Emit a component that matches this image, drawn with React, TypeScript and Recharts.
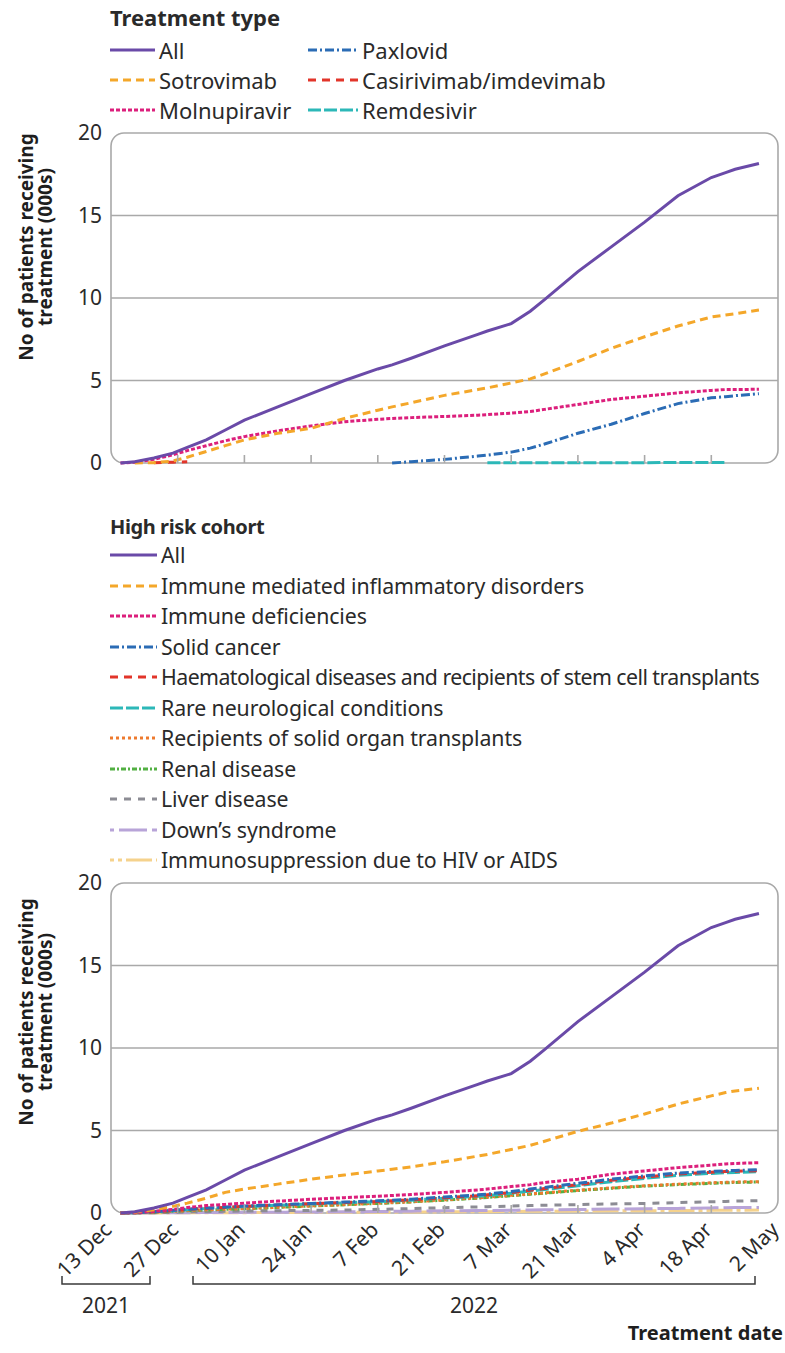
import React from 'react';
import { LineChart, Line, XAxis, YAxis, ReferenceLine, ReferenceArea, Legend } from 'recharts';

const FONT = '"Noto Sans", "Open Sans", sans-serif';

// days since 13 Dec 2021
const days = [2, 5, 9, 13, 16, 20, 24, 28, 35, 42, 49, 56, 59, 63, 70, 77, 79, 84, 88, 91, 98, 105, 112, 119, 126, 129, 131, 136];
const xTicks = [0, 14, 28, 42, 56, 70, 84, 98, 112, 126, 140];
const xTickLabels = ['13 Dec', '27 Dec', '10 Jan', '24 Jan', '7 Feb', '21 Feb', '7 Mar', '21 Mar', '4 Apr', '18 Apr', '2 May'];
const yTicks = [0, 5, 10, 15, 20];

// thousands of patients, cumulative
const allPatients = [0, 0.08, 0.3, 0.6, 0.95, 1.4, 2.0, 2.6, 3.4, 4.2, 5.0, 5.7, 5.95, 6.35, 7.1, 7.8, 8.0, 8.45, 9.2, 9.9, 11.6, 13.1, 14.6, 16.2, 17.3, 17.6, 17.8, 18.15];
const sotrovimab = [null, 0, 0.02, 0.12, 0.35, 0.7, 1.05, 1.4, 1.8, 2.1, 2.7, 3.2, 3.4, 3.65, 4.1, 4.45, 4.55, 4.85, 5.1, 5.4, 6.15, 6.95, 7.65, 8.3, 8.85, 8.97, 9.05, 9.27];
const molnupiravir = [0, 0.05, 0.22, 0.5, 0.75, 1.05, 1.35, 1.6, 1.95, 2.25, 2.5, 2.65, 2.7, 2.75, 2.82, 2.9, 2.93, 3.02, 3.12, 3.25, 3.55, 3.85, 4.05, 4.25, 4.4, 4.45, 4.45, 4.47];
const paxlovid = [null, null, null, null, null, null, null, null, null, null, null, null, 0, 0.08, 0.22, 0.42, 0.48, 0.66, 0.9, 1.15, 1.8, 2.35, 3.0, 3.6, 3.95, 4.02, 4.08, 4.2];
const casirivimab = [null, null, 0.02, 0.05, 0.07, null, null, null, null, null, null, null, null, null, null, null, null, null, null, null, null, null, null, null, null, null, null, null];
const remdesivir = [null, null, null, null, null, null, null, null, null, null, null, null, null, null, null, null, 0.01, 0.01, 0.01, 0.02, 0.02, 0.02, 0.02, 0.03, 0.03, 0.03, null, null];

const imid = [0, 0.05, 0.2, 0.4, 0.6, 0.9, 1.25, 1.45, 1.75, 2.05, 2.3, 2.55, 2.65, 2.8, 3.1, 3.45, 3.55, 3.85, 4.1, 4.35, 4.95, 5.45, 6.0, 6.6, 7.1, 7.3, 7.4, 7.56];
const immuneDef = [0, 0.02, 0.1, 0.22, 0.33, 0.45, 0.52, 0.6, 0.72, 0.83, 0.93, 1.02, 1.06, 1.12, 1.25, 1.4, 1.45, 1.6, 1.72, 1.85, 2.05, 2.35, 2.55, 2.75, 2.9, 2.97, 3.0, 3.05];
const solidCancer = [0, 0.02, 0.08, 0.16, 0.23, 0.3, 0.36, 0.42, 0.5, 0.58, 0.66, 0.74, 0.78, 0.84, 0.97, 1.1, 1.15, 1.3, 1.45, 1.55, 1.8, 2.05, 2.25, 2.42, 2.52, 2.56, 2.58, 2.62];
const haematological = [0, 0.02, 0.07, 0.15, 0.21, 0.28, 0.34, 0.4, 0.48, 0.56, 0.63, 0.7, 0.74, 0.8, 0.92, 1.05, 1.1, 1.24, 1.38, 1.48, 1.72, 1.98, 2.18, 2.36, 2.47, 2.51, 2.53, 2.56];
const rareNeuro = [0, 0.02, 0.07, 0.14, 0.2, 0.27, 0.33, 0.39, 0.47, 0.55, 0.62, 0.69, 0.72, 0.78, 0.9, 1.02, 1.06, 1.2, 1.33, 1.42, 1.65, 1.9, 2.1, 2.28, 2.4, 2.44, 2.46, 2.5];
const solidOrgan = [0, 0.01, 0.05, 0.1, 0.15, 0.19, 0.23, 0.27, 0.35, 0.43, 0.51, 0.59, 0.63, 0.68, 0.8, 0.92, 0.96, 1.07, 1.16, 1.22, 1.38, 1.52, 1.65, 1.75, 1.83, 1.86, 1.88, 1.9];
const renal = [0, 0.01, 0.05, 0.1, 0.14, 0.18, 0.22, 0.26, 0.34, 0.42, 0.5, 0.58, 0.62, 0.67, 0.78, 0.9, 0.94, 1.05, 1.14, 1.2, 1.36, 1.5, 1.63, 1.72, 1.8, 1.83, 1.85, 1.88];
const liver = [0, 0, 0.02, 0.04, 0.06, 0.08, 0.1, 0.12, 0.14, 0.16, 0.18, 0.22, 0.24, 0.27, 0.32, 0.37, 0.38, 0.42, 0.45, 0.47, 0.51, 0.55, 0.58, 0.63, 0.68, 0.7, 0.72, 0.75];
const downs = [0, 0, 0.01, 0.02, 0.02, 0.03, 0.03, 0.04, 0.05, 0.06, 0.07, 0.09, 0.1, 0.11, 0.13, 0.15, 0.15, 0.17, 0.18, 0.19, 0.21, 0.24, 0.26, 0.28, 0.31, 0.32, 0.33, 0.34];
const hiv = [0, 0, 0, 0.01, 0.01, 0.01, 0.02, 0.02, 0.03, 0.03, 0.04, 0.05, 0.05, 0.06, 0.07, 0.08, 0.08, 0.09, 0.1, 0.11, 0.12, 0.13, 0.14, 0.15, 0.16, 0.17, 0.17, 0.18];

const treatmentData = days.map((day, i) => ({
  day,
  all: allPatients[i],
  sotrovimab: sotrovimab[i],
  molnupiravir: molnupiravir[i],
  paxlovid: paxlovid[i],
  casirivimab: casirivimab[i],
  remdesivir: remdesivir[i],
}));

const cohortData = days.map((day, i) => ({
  day,
  all: allPatients[i],
  imid: imid[i],
  immuneDef: immuneDef[i],
  solidCancer: solidCancer[i],
  haematological: haematological[i],
  rareNeuro: rareNeuro[i],
  solidOrgan: solidOrgan[i],
  renal: renal[i],
  liver: liver[i],
  downs: downs[i],
  hiv: hiv[i],
}));

type Series = { key: string; name: string; color: string; dash?: string; width?: number; squeeze?: number };

const treatmentSeries: Series[] = [
  { key: 'all', name: 'All', color: '#6a4aa8', width: 3 },
  { key: 'sotrovimab', name: 'Sotrovimab', color: '#f4a72a', dash: '8 5' },
  { key: 'molnupiravir', name: 'Molnupiravir', color: '#dc1f7c', dash: '4 2' },
  { key: 'paxlovid', name: 'Paxlovid', color: '#2b6cb5', dash: '9 3 2 3' },
  { key: 'casirivimab', name: 'Casirivimab/imdevimab', color: '#e2352a', dash: '8 6' },
  { key: 'remdesivir', name: 'Remdesivir', color: '#2cb8b8', dash: '13 3' },
];

const cohortSeries: Series[] = [
  { key: 'all', name: 'All', color: '#6a4aa8', width: 3 },
  { key: 'imid', name: 'Immune mediated inflammatory disorders', color: '#f4a72a', dash: '8 5' },
  { key: 'immuneDef', name: 'Immune deficiencies', color: '#dc1f7c', dash: '4 2' },
  { key: 'solidCancer', name: 'Solid cancer', color: '#2b6cb5', dash: '9 3 2 3' },
  { key: 'haematological', name: 'Haematological diseases and recipients of stem cell transplants', color: '#e2352a', dash: '8 6', squeeze: -0.55 },
  { key: 'rareNeuro', name: 'Rare neurological conditions', color: '#2cb8b8', dash: '13 3' },
  { key: 'solidOrgan', name: 'Recipients of solid organ transplants', color: '#ee7a2e', dash: '3 3' },
  { key: 'renal', name: 'Renal disease', color: '#52b043', dash: '5 2 2 2' },
  { key: 'liver', name: 'Liver disease', color: '#8c8c94', dash: '7 7' },
  { key: 'downs', name: 'Down\u2019s syndrome', color: '#b8a4d8', dash: '4 5 24 0' },
  { key: 'hiv', name: 'Immunosuppression due to HIV or AIDS', color: '#f5d28c', dash: '4 4 4 4 22 0' },
];

const GRID = '#a9a9a9';
const TEXT = '#2a2a2a';

function Sample({ s, width = 46 }: { s: Series; width?: number }) {
  return (
    <svg width={width} height={10} style={{ display: 'block' }}>
      <line x1={0} y1={5} x2={width} y2={5} stroke={s.color} strokeWidth={3} strokeDasharray={s.dash} />
    </svg>
  );
}

function TreatmentLegend() {
  return (
    <div style={{ position: 'relative', width: 785, height: 125, fontFamily: FONT, color: TEXT }}>
      <div style={{ position: 'absolute', left: 110, top: 3, fontSize: 22, fontWeight: 700, lineHeight: '28px' }}>Treatment type</div>
      {treatmentSeries.map((s, i) => {
        const col = Math.floor(i / 3);
        const row = i % 3;
        const cy = 50 + row * 30;
        const lx = col === 0 ? 110 : 308;
        return (
          <div key={s.key} style={{ position: 'absolute', left: lx, top: cy - 14, height: 28, display: 'flex', alignItems: 'center' }}>
            <Sample s={s} width={col === 0 ? 45 : 50} />
            <span style={{ marginLeft: 4, fontSize: 22, lineHeight: '28px', whiteSpace: 'nowrap' }}>{s.name}</span>
          </div>
        );
      })}
    </div>
  );
}

function CohortLegend() {
  return (
    <div style={{ position: 'relative', width: 785, height: 380, fontFamily: FONT, color: TEXT }}>
      <div style={{ position: 'absolute', left: 110, top: 13, fontSize: 20, fontWeight: 700, lineHeight: '28px', letterSpacing: -0.4 }}>High risk cohort</div>
      {cohortSeries.map((s, i) => {
        const cy = 55 + i * 30.5;
        return (
          <div key={s.key} style={{ position: 'absolute', left: 110, top: cy - 14, height: 28, display: 'flex', alignItems: 'center' }}>
            <Sample s={s} width={47} />
            <span style={{ marginLeft: 4, fontSize: 21.3, lineHeight: '28px', whiteSpace: 'nowrap', letterSpacing: s.squeeze ?? -0.1 }}>{s.name}</span>
          </div>
        );
      })}
    </div>
  );
}

function PlotBox(props: any) {
  const { x, y, width, height } = props;
  return <rect x={x} y={y} width={width} height={height} rx={13} ry={13} fill="none" stroke={GRID} strokeWidth={1.6} />;
}

function DateTick(props: any) {
  const { x, y, payload, showLabel } = props;
  const idx = xTicks.indexOf(payload.value);
  const edge = payload.value === 0 || payload.value === 140;
  const ax = x + 2;
  const ay = y + 18;
  return (
    <g>
      {!edge && <line x1={x} x2={x} y1={y} y2={y - 8} stroke={GRID} strokeWidth={1.6} />}
      {showLabel && (
        <text x={ax} y={ay} transform={`rotate(-45 ${ax} ${ay})`} textAnchor="end" fontSize={21} fill={TEXT} fontFamily={FONT}>
          {xTickLabels[idx]}
        </text>
      )}
    </g>
  );
}

function renderLines(series: Series[]) {
  return [...series].reverse().map((s) => (
    <Line
      key={s.key}
      type="linear"
      dataKey={s.key}
      name={s.name}
      stroke={s.color}
      strokeWidth={s.width ?? 3}
      strokeDasharray={s.dash}
      dot={false}
      activeDot={false}
      connectNulls={false}
      isAnimationActive={false}
    />
  ));
}

function YTitle({ cy }: { cy: number }) {
  return (
    <text transform={`translate(0 ${cy}) rotate(-90)`} textAnchor="middle" fontFamily={FONT} fontSize={19} fontWeight={700} fill="#1e1e1e">
      <tspan x={0} y={33}>No of patients receiving</tspan>
      <tspan x={0} y={52}>treatment (000s)</tspan>
    </text>
  );
}

export default function App() {
  const yAxis = (
    <YAxis
      type="number"
      domain={[0, 20]}
      ticks={yTicks}
      width={111}
      axisLine={false}
      tickLine={false}
      tickSize={0}
      tickMargin={9}
      tick={{ fontSize: 21, fill: TEXT, fontFamily: FONT }}
    />
  );
  return (
    <div style={{ position: 'absolute', left: 0, top: 0, width: 785, height: 1353, background: '#fff', overflow: 'hidden' }}>
      <div style={{ position: 'absolute', left: 0, top: 0 }}>
        <LineChart width={785} height={500} data={treatmentData} margin={{ top: 133, right: 7, bottom: 7, left: 0 }}>
          <ReferenceArea x1={0} x2={140} y1={0} y2={20} shape={<PlotBox />} ifOverflow="visible" />
          {[5, 10, 15].map((v) => (
            <ReferenceLine key={'g' + v} y={v} stroke={GRID} strokeWidth={1.6} />
          ))}
          <XAxis
            type="number"
            dataKey="day"
            domain={[0, 140]}
            ticks={xTicks}
            height={30}
            axisLine={false}
            tickLine={false}
            tickSize={0}
            tickMargin={0}
            interval={0}
            tick={(p: any) => <DateTick {...p} showLabel={false} />}
          />
          {yAxis}
          <Legend
            verticalAlign="middle"
            align="center"
            wrapperStyle={{ top: 0, left: 0, width: 785, height: 125 }}
            content={() => <TreatmentLegend />}
          />
          {renderLines(treatmentSeries)}
        </LineChart>
      </div>
      <div style={{ position: 'absolute', left: 0, top: 500 }}>
        <LineChart width={785} height={853} data={cohortData} margin={{ top: 383, right: 7, bottom: 110, left: 0 }}>
          <ReferenceArea x1={0} x2={140} y1={0} y2={20} shape={<PlotBox />} ifOverflow="visible" />
          {[5, 10, 15].map((v) => (
            <ReferenceLine key={'g' + v} y={v} stroke={GRID} strokeWidth={1.6} />
          ))}
          <XAxis
            type="number"
            dataKey="day"
            domain={[0, 140]}
            ticks={xTicks}
            height={30}
            axisLine={false}
            tickLine={false}
            tickSize={0}
            tickMargin={0}
            interval={0}
            tick={(p: any) => <DateTick {...p} showLabel />}
          />
          {yAxis}
          <Legend
            verticalAlign="middle"
            align="center"
            wrapperStyle={{ top: 0, left: 0, width: 785, height: 380 }}
            content={() => <CohortLegend />}
          />
          {renderLines(cohortSeries)}
        </LineChart>
      </div>
      <svg width={785} height={1353} style={{ position: 'absolute', left: 0, top: 0, pointerEvents: 'none' }}>
        <YTitle cy={247} />
        <YTitle cy={1012} />
        <g stroke="#3a3a3a" strokeWidth={1.5} fill="none">
          <path d="M62 1276 V1284 H150 V1276" />
          <path d="M193 1276 V1284 H755 V1276" />
        </g>
        <g fontFamily={FONT} fontSize={21} fill={TEXT} textAnchor="middle">
          <text x={106} y={1313}>2021</text>
          <text x={474} y={1313}>2022</text>
        </g>
        <text x={783} y={1340} textAnchor="end" fontFamily={FONT} fontSize={20} fontWeight={700} fill="#1e1e1e">
          Treatment date
        </text>
      </svg>
    </div>
  );
}
